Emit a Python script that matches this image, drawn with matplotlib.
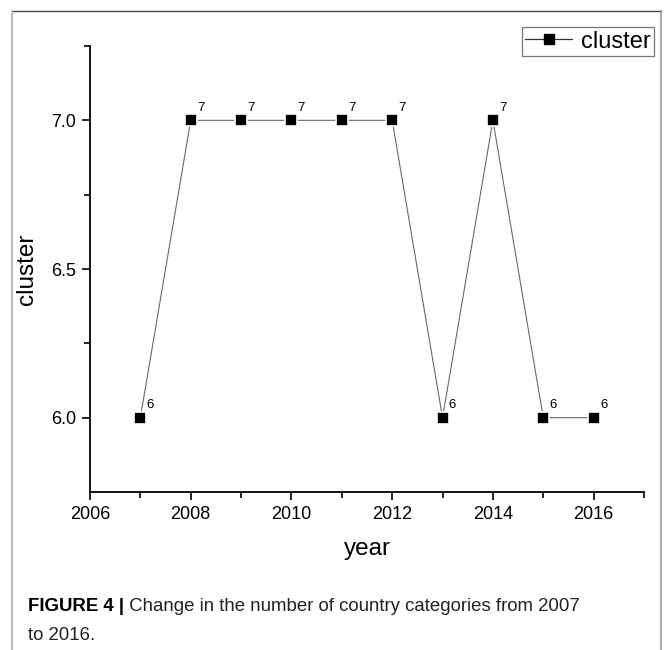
import matplotlib
matplotlib.use("Agg")
import matplotlib.pyplot as plt
from matplotlib.ticker import FixedLocator, FormatStrFormatter
from matplotlib.lines import Line2D

plt.rcParams['font.family'] = ['Liberation Sans', 'DejaVu Sans']

years = [2007, 2008, 2009, 2010, 2011, 2012, 2013, 2014, 2015, 2016]
cluster = [6, 7, 7, 7, 7, 7, 6, 7, 6, 6]
series_name = "cluster"
x_label = "year"
y_label = "cluster"
caption_bold = "FIGURE 4 |"
caption_rest = " Change in the number of country categories from 2007"
caption_line2 = "to 2016."

fig = plt.figure(figsize=(6.65, 6.5), dpi=100)

# page frame
fig.add_artist(Line2D([12/665, 661/665], [1 - 11/650, 1 - 11/650], color="#4a4a4a", lw=1.0))
fig.add_artist(Line2D([12/665, 12/665], [0, 1 - 11/650], color="#bdbdbd", lw=1.5))
fig.add_artist(Line2D([661/665, 661/665], [0, 1 - 11/650], color="#9a9a9a", lw=1.2))

ax = fig.add_axes([90/665, (650 - 492)/650, (644 - 90)/665, (492 - 46)/650])

ax.plot(years, cluster, color="#6a6a6a", lw=0.8, zorder=2)
ax.plot(years, cluster, linestyle="none", marker="s", markersize=8.6,
        markerfacecolor="black", markeredgecolor="white", markeredgewidth=1.2, zorder=3)

for x, y in zip(years, cluster):
    ax.annotate(f"{y}", (x, y), xytext=(4.5, 4.5), textcoords="offset points",
                fontsize=9.5, ha="left", va="bottom")

ax.set_xlim(2006, 2017)
ax.set_ylim(5.75, 7.25)
ax.xaxis.set_major_locator(FixedLocator([2006, 2008, 2010, 2012, 2014, 2016]))
ax.xaxis.set_minor_locator(FixedLocator([2007, 2009, 2011, 2013, 2015, 2017]))
ax.yaxis.set_major_locator(FixedLocator([6.0, 6.5, 7.0]))
ax.yaxis.set_minor_locator(FixedLocator([6.25, 6.75, 7.25]))
ax.yaxis.set_major_formatter(FormatStrFormatter("%.1f"))

for side in ("top", "right"):
    ax.spines[side].set_visible(False)
for side in ("left", "bottom"):
    ax.spines[side].set_linewidth(1.3)

ax.tick_params(which="major", direction="out", length=6, width=1.2, labelsize=13, pad=4)
ax.tick_params(which="minor", direction="out", length=4, width=1.2)

ax.set_xlabel(x_label, fontsize=17.5, labelpad=11)
ax.set_ylabel(y_label, fontsize=17.5, labelpad=9)

handle = Line2D([], [], color="#333333", lw=0.9, marker="s", markersize=6.5,
                markerfacecolor="black", markeredgecolor="black")
leg = fig.legend([handle], [series_name], loc="upper right",
                 bbox_to_anchor=(654/665, 1 - 27/650), fontsize=17,
                 frameon=True, fancybox=False, handlelength=2.0,
                 handletextpad=0.35, borderpad=0.15, borderaxespad=0)
leg.get_frame().set_edgecolor("#555555")
leg.get_frame().set_linewidth(0.9)

t1 = fig.text(28/665, 1 - 611/650, caption_bold, fontsize=13.4, fontweight="bold", va="baseline")
fig.canvas.draw()
bb = t1.get_window_extent()
fig.text(bb.x1 / fig.bbox.width, 1 - 611/650, caption_rest, fontsize=13.4, va="baseline", color="#222222")
fig.text(28/665, 1 - 640/650, caption_line2, fontsize=13.4, va="baseline", color="#222222")

fig.savefig("out.png", dpi=100)
